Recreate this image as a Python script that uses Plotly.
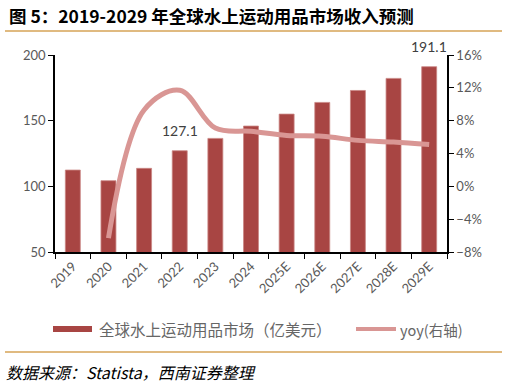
import plotly.graph_objects as go

years = ["2019", "2020", "2021", "2022", "2023", "2024", "2025E", "2026E", "2027E", "2028E", "2029E"]
market = [112.4, 104.3, 113.7, 127.1, 136.5, 145.9, 155.0, 163.9, 173.0, 182.2, 191.1]
yoy = [None, -6.3, 9.3, 11.7, 7.1, 6.7, 6.2, 6.1, 5.6, 5.4, 5.1]
labelled = ["2022", "2029E"]

bar_color = "#A84543"
line_color = "#D99694"
gold = "#D6A356"
tick_font = dict(family="Lato, Carlito, sans-serif", size=13, color="#595959")
cjk = "Noto Sans CJK SC"

W, H = 507, 384
L, R, T, B = 55, 447, 55, 252


def px(x):
    return (x - L) / (R - L)


def py(y):
    return (B - y) / (B - T)


fig = go.Figure()
fig.add_trace(go.Bar(x=years, y=market, name="全球水上运动用品市场（亿美元）",
                     marker=dict(color=bar_color, line=dict(color="#C98784", width=0.8)),
                     yaxis="y", showlegend=False))
fig.add_trace(go.Scatter(x=years, y=yoy, name="yoy(右轴)", mode="lines",
                         line=dict(color=line_color, width=5, shape="spline", smoothing=1.0),
                         yaxis="y2", showlegend=False))

anns = []
for k in labelled:
    i = years.index(k)
    v = market[i]
    anns.append(dict(x=i, y=v, xref="x", yref="y", text=f"{v:.1f}", showarrow=False,
                     yanchor="bottom", yshift=10,
                     font=dict(family="Lato, sans-serif", size=14, color="#404040")))

anns.append(dict(x=px(7), y=py(16), xref="paper", yref="paper", xanchor="left", yanchor="middle",
                 text="<b>图 5：2019-2029 年全球水上运动用品市场收入预测</b>", showarrow=False,
                 font=dict(family=cjk, size=17.5, color="#000000")))
anns.append(dict(x=px(97), y=py(329), xref="paper", yref="paper", xanchor="left", yanchor="middle",
                 text="全球水上运动用品市场（亿美元）", showarrow=False,
                 font=dict(family=cjk, size=15.5, color="#666666")))
anns.append(dict(x=px(398), y=py(329), xref="paper", yref="paper", xanchor="left", yanchor="middle",
                 text="yoy(右轴)", showarrow=False,
                 font=dict(family=cjk, size=14.5, color="#666666")))
anns.append(dict(x=px(4), y=py(372), xref="paper", yref="paper", xanchor="left", yanchor="middle",
                 text="<i>数据来源：Statista，西南证券整理</i>", showarrow=False,
                 font=dict(family=cjk, size=16, color="#000000")))

shapes = [
    dict(type="line", xref="paper", yref="paper", x0=px(5), x1=px(502), y0=py(31), y1=py(31),
         line=dict(color=gold, width=1.5)),
    dict(type="line", xref="paper", yref="paper", x0=px(5), x1=px(502), y0=py(352), y1=py(352),
         line=dict(color=gold, width=1.5)),
    dict(type="rect", xref="paper", yref="paper", x0=px(53), x1=px(92), y0=py(332), y1=py(326),
         fillcolor=bar_color, line=dict(width=0)),
    dict(type="line", xref="paper", yref="paper", x0=px(356), x1=px(396), y0=py(329), y1=py(329),
         line=dict(color=line_color, width=4)),
]

fig.update_layout(
    width=W, height=H,
    margin=dict(l=L, r=W - R, t=T, b=H - B, autoexpand=False),
    paper_bgcolor="white", plot_bgcolor="white",
    bargap=0.58,
    shapes=shapes,
    annotations=anns,
    xaxis=dict(type="category", range=[-0.5, 10.5], tickangle=-45, tickfont=tick_font,
               showline=True, linecolor="black", linewidth=1.5, ticks="outside", ticklen=5,
               tickcolor="black", tickson="boundaries", showgrid=False, automargin=False),
    yaxis=dict(range=[50, 200], dtick=50, tickfont=tick_font, showline=True, linecolor="black",
               linewidth=1.5, ticks="outside", ticklen=5, tickcolor="black", showgrid=False,
               zeroline=False, automargin=False),
    yaxis2=dict(range=[-8, 16], dtick=4, ticksuffix="%", overlaying="y", side="right",
                tickfont=tick_font, showline=True, linecolor="black", linewidth=1.5,
                ticks="outside", ticklen=5, tickcolor="black", showgrid=False, zeroline=False,
                automargin=False),
)

fig.write_html("out.html", config={"displayModeBar": False},
               post_script="document.body.style.margin='0px';document.body.style.overflow='hidden';")
